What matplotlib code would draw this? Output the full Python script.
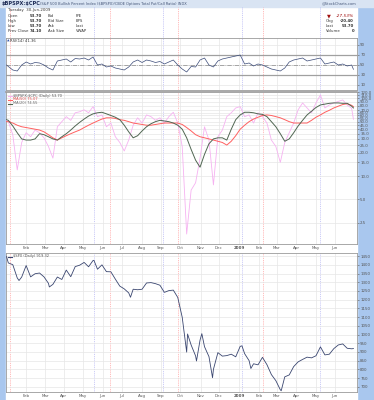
import numpy as np
import pandas as pd
import matplotlib
matplotlib.use("Agg")
import matplotlib.pyplot as plt
from matplotlib.lines import Line2D
from matplotlib.patches import Rectangle
from matplotlib.ticker import NullLocator

W, H = 374, 400

# weekly sample dates (first day, Fridays, last day)
weeks = (["2008-01-02"]
         + [d.strftime("%Y-%m-%d") for d in pd.date_range("2008-01-04", "2009-06-26", freq="W-FRI")]
         + ["2009-06-30"])

# $BPSPX:$CPC ratio
ratio = [52, 50, 34, 12, 27, 36, 32, 39, 36, 31, 24, 17, 43, 50, 58, 52, 65, 67, 71, 65,
         78, 58, 61, 43, 48, 32, 27, 21, 29, 45, 56, 48, 61, 58, 52, 56, 48, 58, 66, 48,
         24, 1.8, 6.6, 8.2, 17, 43, 29, 7.7, 32, 39, 58, 65, 75, 78, 58, 61, 48, 65, 58, 48,
         29, 24, 15, 27, 36, 48, 71, 87, 75, 65, 87, 110, 75, 82, 87, 91, 95, 82, 74.1, 53.7]
ma_slow = [50, 50, 48, 45, 43, 42, 41, 40, 39, 37, 34, 31, 29, 31, 33, 35, 37, 39, 42, 45,
           48, 51, 54, 56, 56, 55, 53, 52, 50, 48, 47, 46, 45, 45, 46, 47, 48, 48, 48, 48,
           46, 42, 38, 34, 32, 31, 30, 29, 28, 27, 25, 28, 33, 40, 45, 50, 54, 57, 60, 61,
           60, 58, 56, 53, 50, 48, 48, 48, 48, 52, 57, 61, 66, 70, 75, 79, 83, 85, 81, 78]
ma_fast = [53, 52, 44, 36, 30, 29, 29, 30, 35, 34, 32, 30, 29, 32, 35, 39, 44, 49, 54, 59,
           63, 65, 66, 63, 60, 57, 53, 45, 37, 31, 33, 38, 43, 47, 50, 52, 51, 50, 48, 45,
           40, 31, 22, 16, 13, 19, 26, 30, 31, 31, 29, 40, 53, 61, 66, 66, 65, 63, 62, 58,
           50, 43, 35, 28, 30, 36, 44, 52, 61, 68, 76, 82, 84, 86, 87, 87, 86, 86, 79, 75]
rsi = [50, 47, 40, 38, 50, 56, 52, 55, 54, 50, 44, 40, 58, 60, 62, 56, 63, 62, 64, 60,
       66, 50, 52, 46, 48, 44, 42, 40, 46, 56, 60, 55, 60, 58, 55, 57, 52, 56, 60, 50,
       42, 36, 47, 46, 60, 64, 50, 46, 58, 62, 64, 66, 68, 70, 52, 54, 48, 52, 50, 46,
       42, 40, 38, 44, 56, 60, 62, 64, 58, 60, 62, 64, 52, 54, 56, 50, 52, 48, 50, 41.36]
spx = [1447, 1411, 1401, 1325, 1330, 1396, 1331, 1349, 1353, 1331, 1294, 1288, 1330, 1316,
       1370, 1332, 1390, 1398, 1414, 1389, 1425, 1375, 1400, 1361, 1360, 1318, 1278, 1262,
       1239, 1260, 1257, 1260, 1296, 1298, 1292, 1283, 1242, 1252, 1255, 1213, 1099, 899,
       940, 877, 968, 930, 873, 800, 896, 876, 879, 887, 872, 932, 890, 850, 832, 826, 869,
       827, 770, 735, 683, 757, 768, 816, 843, 857, 870, 866, 878, 929, 883, 887, 919, 940,
       946, 921, 918, 919.32]
spx_extra_dates = ["2008-01-22", "2008-03-10", "2008-05-19", "2008-07-15", "2008-10-13",
                   "2008-10-27", "2008-11-04", "2008-11-20", "2009-01-06", "2009-01-20",
                   "2009-03-09"]
spx_extra = [1310, 1273, 1426, 1214, 1003, 848, 1005, 752, 935, 805, 677]

red_marks = ["2008-01-08", "2008-06-12", "2008-09-26", "2009-02-09"]
blue_marks = ["2008-05-19", "2008-09-03", "2009-01-06", "2009-05-08"]

month_labels = ["Feb", "Mar", "Apr", "May", "Jun", "Jul", "Aug", "Sep", "Oct", "Nov", "Dec",
                "2009", "Feb", "Mar", "Apr", "May", "Jun"]
month_starts = [d.strftime("%Y-%m-%d") for d in pd.date_range("2008-02-01", "2009-06-01", freq="MS")]

main_ticks = [2.5, 5, 10, 15, 20, 25, 30, 35, 40, 45, 50, 55, 60, 65, 70, 80, 90, 100, 110, 120]
rsi_ticks = [10, 30, 50, 70, 90]
spx_ticks = list(range(700, 1451, 50))


def bidx(dates):
    d = pd.to_datetime(pd.Series(dates)).values.astype("datetime64[D]")
    return np.busday_count(np.datetime64("2008-01-02"), d)


xw = bidx(weeks)
spx_s = pd.Series(spx + spx_extra, index=pd.to_datetime(weeks + spx_extra_dates)).sort_index()
xs = bidx(spx_s.index)
xm = bidx(month_starts)

fig = plt.figure(figsize=(W / 100, H / 100), dpi=100)
fig.patch.set_facecolor("#a9c7ee")
fig.patches.append(Rectangle((6 / W, 0), 351 / W, 1 - 7 / H, transform=fig.transFigure,
                             color="white", zorder=-5))
fig.patches.append(Rectangle((0, 1 - 7 / H), 1, 7 / H, transform=fig.transFigure,
                             color="#d9e4f3", zorder=-5))


def ft(x, y, s, **kw):
    kw.setdefault("fontsize", 2.8)
    kw.setdefault("va", "center")
    kw.setdefault("color", "#333333")
    fig.text(x / W, 1 - y / H, s, **kw)


def add_ax(top, bottom):
    ax = fig.add_axes([6 / W, 1 - bottom / H, 351 / W, (bottom - top) / H])
    ax.set_xlim(-0.6, 393)
    ax.set_xticks(xm)
    ax.set_xticklabels([])
    ax.tick_params(axis="x", length=0)
    ax.grid(axis="x", color="#e6e6e6", lw=0.5)
    for sp in ax.spines.values():
        sp.set_color("#9a9a9a")
        sp.set_linewidth(0.6)
    for d in red_marks:
        ax.axvline(bidx([d])[0], color="#ff9a9a", lw=0.45, ls=(0, (2, 1.5)), zorder=1)
    for d in blue_marks:
        ax.axvline(bidx([d])[0], color="#a8a8f2", lw=0.45, ls=(0, (1.5, 1.5)), zorder=1)
    return ax


def right_ticks(ax, ticks, labels):
    ax.yaxis.tick_right()
    ax.yaxis.set_minor_locator(NullLocator())
    ax.set_yticks(ticks)
    ax.set_yticklabels(labels)
    ax.tick_params(axis="y", labelsize=2.9, length=1.5, width=0.4, pad=0.8, colors="#555555")
    ax.grid(axis="y", color="#e6e6e6", lw=0.5)


# header
ax0 = add_ax(7, 38)
ax0.grid(False)
ax0.set_yticks([])
ax0.patch.set_alpha(0)
for sp in ax0.spines.values():
    sp.set_visible(False)

ft(2, 3.5, "\\$BPSPX:\\$CPC", fontsize=3.6, weight="bold", color="#1c2a55")
ft(40, 3.5, "(S&P 500 Bullish Percent Index (\\$BPSPX)/CBOE Options Total Put/Call Ratio) INDX",
   fontsize=2.6, color="#445577")
ft(356, 3.5, "@StockCharts.com", fontsize=2.6, ha="right", color="#445577")
ft(8, 10.5, "Tuesday  30-Jun-2009")
rows = ["Open", "High", "Low", "Prev Close"]
vals = ["53.70", "53.70", "53.70", "74.10"]
mid = ["Bid", "Bid Size", "Ask", "Ask Size"]
far = ["P/E", "EPS", "Last", "VWAP"]
for i in range(4):
    y = 15.7 + 5 * i
    ft(8, y, rows[i])
    ft(42, y, vals[i], ha="right", weight="bold")
    ft(48, y, mid[i])
    ft(76, y, far[i])
ft(327, 15.7, "\u25bc", fontsize=3.6, color="#a01010")
ft(354, 15.7, "-27.53%", fontsize=3.2, ha="right", color="#a01010", style="italic")
for i, (k, v) in enumerate([("Chg", "-20.40"), ("Last", "53.70"), ("Volume", "0")]):
    ft(326, 20.7 + 5 * i, k)
    ft(354, 20.7 + 5 * i, v, ha="right", weight="bold")

# RSI panel
ax1 = add_ax(38, 90)
ax1.plot(xw, rsi, color="#3a4a78", lw=0.5, zorder=3)
ax1.set_ylim(0, 104)
right_ticks(ax1, rsi_ticks, [str(t) for t in rsi_ticks])
ax1.axhline(70, color="#a0a0a0", lw=0.9, zorder=2)
ax1.axhline(30, color="#a0a0a0", lw=0.9, zorder=2)
ax1.axhline(50, color="#888888", lw=0.5, ls="-.", zorder=2)
ft(7, 40.8, "\u25b2", fontsize=2.4, color="#3355aa")
ft(10, 40.8, "RSI(14) 41.36", fontsize=2.7)

# main ratio panel
ax2 = add_ax(91.5, 243.5)
ax2.set_yscale("log")
ax2.plot(xw, ratio, color="#f6b2f1", lw=0.6, zorder=3)
ax2.plot(xw, ma_slow, color="#ff6060", lw=0.7, zorder=4)
ax2.plot(xw, ma_fast, color="#506652", lw=0.7, zorder=4)
ax2.set_ylim(1.36, 122)
right_ticks(ax2, main_ticks, [f"{t:.1f}" for t in main_ticks])
ax2.spines["top"].set_linewidth(1.2)
ax2.set_xticklabels(month_labels)
ax2.tick_params(axis="x", labelsize=2.9, pad=1.6, colors="#555555")
for lab in ax2.get_xticklabels():
    if lab.get_text() == "2009":
        lab.set_fontweight("bold")
legend = [("\\$BPSPX:\\$CPC (Daily) 53.70", "#f6b2f1", "#555555"),
          ("MA(50) 75.07", "#ff6060", "#e04848"),
          ("MA(20) 74.55", "#506652", "#666666")]
for i, (txt, lc, tc) in enumerate(legend):
    y = 95.5 + 4 * i
    fig.add_artist(Line2D([8 / W, 12 / W], [1 - y / H, 1 - y / H], color=lc, lw=0.8))
    ft(13, y, txt, fontsize=2.6, color=tc)

# SPX panel
ax3 = add_ax(253, 392)
ax3.plot(xs, spx_s.values, color="#3a4670", lw=0.6, zorder=3)
ax3.set_ylim(670, 1468)
right_ticks(ax3, spx_ticks, [str(t) for t in spx_ticks])
ax3.set_xticklabels(month_labels)
ax3.tick_params(axis="x", labelsize=2.9, pad=1.6, colors="#555555")
for lab in ax3.get_xticklabels():
    if lab.get_text() == "2009":
        lab.set_fontweight("bold")
fig.add_artist(Line2D([8 / W, 12 / W], [1 - 256.5 / H, 1 - 256.5 / H], color="#3a4670", lw=0.8))
ft(13, 256.5, "\\$SPX (Daily) 919.32", fontsize=2.6, color="#555555")

fig.savefig("out.png", dpi=100, facecolor=fig.get_facecolor())
